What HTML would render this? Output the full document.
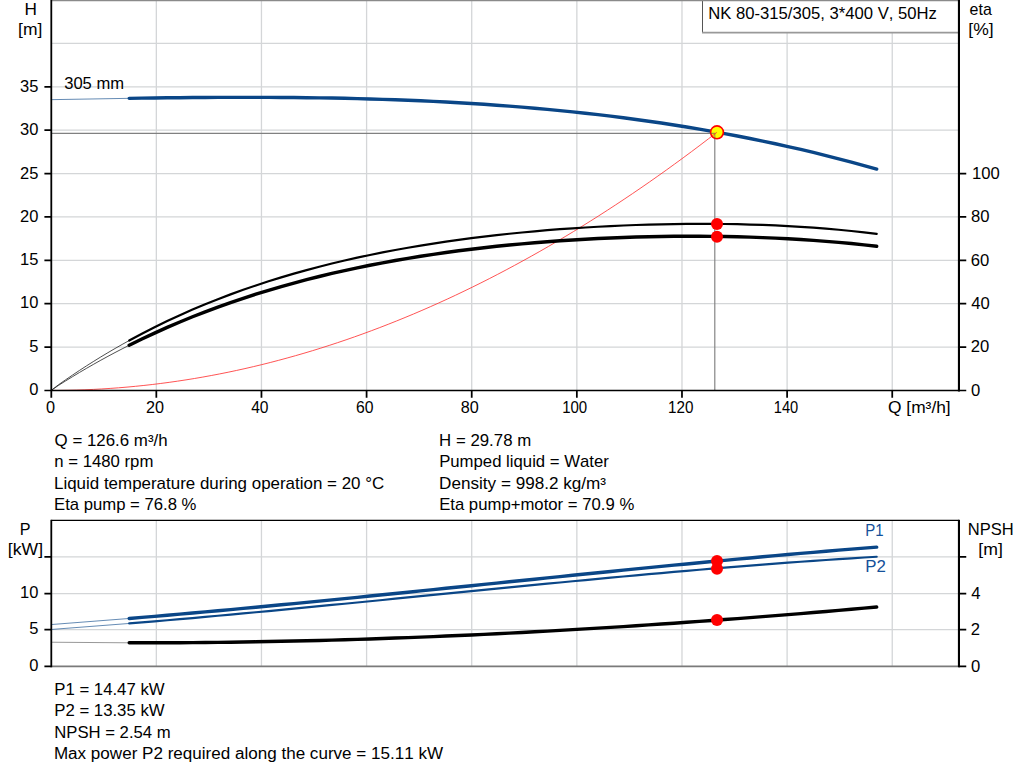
<!DOCTYPE html>
<html><head><meta charset="utf-8"><title>Pump curve</title>
<style>html,body{margin:0;padding:0;background:#fff;overflow:hidden}svg{display:block}text{font-family:"Liberation Sans",sans-serif}</style>
</head><body>
<svg width="1024" height="781" viewBox="0 0 1024 781" font-family="'Liberation Sans', sans-serif" style="font-kerning:none">
<rect width="1024" height="781" fill="#fff"/>
<path d="M156.33 0V390.45M261.46 0V390.45M366.59 0V390.45M471.72 0V390.45M576.85 0V390.45M681.98 0V390.45M787.11 0V390.45M892.24 0V390.45M51.20 347.07H958.95M51.20 303.70H958.95M51.20 260.32H958.95M51.20 216.95H958.95M51.20 173.57H958.95M51.20 130.20H958.95M51.20 86.82H958.95M51.20 43.45H958.95" stroke="#d4d6d8" stroke-width="1.3" fill="none"/>
<path d="M51.20 0.5H958.95" stroke="#8a8a8a" stroke-width="1.4"/>
<path d="M156.33 520.30V666.40M261.46 520.30V666.40M366.59 520.30V666.40M471.72 520.30V666.40M576.85 520.30V666.40M681.98 520.30V666.40M787.11 520.30V666.40M892.24 520.30V666.40M51.20 629.60H958.95M51.20 593.70H958.95M51.20 556.90H958.95" stroke="#d4d6d8" stroke-width="1.3" fill="none"/>
<rect x="702.5" y="0.5" width="256.45" height="32.2" fill="#fff"/>
<path d="M702.5 0V32.6" stroke="#555" stroke-width="1"/>
<path d="M702 32.7H958.95" stroke="#999" stroke-width="1.7"/>
<path d="M702 0.5H958.95" stroke="#8a8a8a" stroke-width="1.4"/>
<path d="M51.20 133.4H714.8V390.45" stroke="#808080" stroke-width="1.15" fill="none"/>
<path d="M51.20 390.45L59.63 390.41L68.05 390.28L76.48 390.08L84.90 389.79L93.33 389.42L101.75 388.96L110.18 388.42L118.60 387.80L127.03 387.10L135.45 386.32L143.88 385.45L152.30 384.50L160.73 383.46L169.15 382.35L177.58 381.15L186.01 379.87L194.43 378.50L202.86 377.05L211.28 375.52L219.71 373.91L228.13 372.22L236.56 370.44L244.98 368.58L253.41 366.63L261.83 364.61L270.26 362.50L278.68 360.31L287.11 358.03L295.53 355.68L303.96 353.24L312.38 350.72L320.81 348.11L329.24 345.42L337.66 342.65L346.09 339.80L354.51 336.86L362.94 333.85L371.36 330.74L379.79 327.56L388.21 324.29L396.64 320.94L405.06 317.51L413.49 314.00L421.91 310.40L430.34 306.72L438.76 302.96L447.19 299.11L455.62 295.19L464.04 291.17L472.47 287.08L480.89 282.91L489.32 278.65L497.74 274.30L506.17 269.88L514.59 265.37L523.02 260.78L531.44 256.11L539.87 251.36L548.29 246.52L556.72 241.60L565.14 236.60L573.57 231.51L581.99 226.34L590.42 221.09L598.85 215.76L607.27 210.34L615.70 204.84L624.12 199.26L632.55 193.59L640.97 187.85L649.40 182.02L657.82 176.10L666.25 170.11L674.67 164.03L683.10 157.87L691.52 151.63L699.95 145.30L708.37 138.89L716.80 132.40" stroke="#ff3535" stroke-width="0.85" fill="none"/>
<path d="M51.20 99.67L129.20 98.33" stroke="#0a4687" stroke-width="0.9" stroke-opacity="0.7" fill="none"/>
<path d="M129.20 98.33L141.87 98.14L154.54 97.97L167.21 97.82L179.88 97.68L192.55 97.56L205.22 97.47L217.89 97.40L230.56 97.35L243.23 97.33L255.89 97.33L268.56 97.37L281.23 97.44L293.90 97.54L306.57 97.68L319.24 97.85L331.91 98.06L344.58 98.32L357.25 98.61L369.92 98.95L382.59 99.34L395.26 99.78L407.93 100.26L420.60 100.79L433.27 101.38L445.94 102.02L458.61 102.72L471.28 103.48L483.95 104.30L496.62 105.18L509.28 106.12L521.95 107.13L534.62 108.21L547.29 109.35L559.96 110.57L572.63 111.86L585.30 113.22L597.97 114.66L610.64 116.17L623.31 117.77L635.98 119.45L648.65 121.21L661.32 123.05L673.99 124.98L686.66 127.00L699.33 129.11L712.00 131.32L724.67 133.61L737.34 136.00L750.01 138.49L762.67 141.08L775.34 143.77L788.01 146.56L800.68 149.46L813.35 152.46L826.02 155.57L838.69 158.79L851.36 162.12L864.03 165.56L876.70 169.12" stroke="#0a4687" stroke-width="3.4" stroke-linecap="round" fill="none"/>
<path d="M51.20 390.45L58.29 384.92L65.38 379.95L72.47 375.11L79.56 370.39L86.65 365.78L93.75 361.29L100.84 356.92L107.93 352.66L115.02 348.50L122.11 344.46L129.20 340.52" stroke="#222" stroke-width="0.8" fill="none"/>
<path d="M129.20 340.52L141.87 333.73L154.54 327.25L167.21 321.08L179.88 315.20L192.55 309.60L205.22 304.27L217.89 299.20L230.56 294.37L243.23 289.78L255.89 285.42L268.56 281.28L281.23 277.35L293.90 273.61L306.57 270.07L319.24 266.71L331.91 263.53L344.58 260.51L357.25 257.66L369.92 254.96L382.59 252.41L395.26 249.99L407.93 247.72L420.60 245.57L433.27 243.55L445.94 241.64L458.61 239.85L471.28 238.17L483.95 236.60L496.62 235.13L509.28 233.76L521.95 232.49L534.62 231.31L547.29 230.22L559.96 229.22L572.63 228.31L585.30 227.48L597.97 226.74L610.64 226.08L623.31 225.51L635.98 225.02L648.65 224.62L661.32 224.29L673.99 224.06L686.66 223.91L699.33 223.85L712.00 223.88L724.67 224.00L737.34 224.21L750.01 224.53L762.67 224.94L775.34 225.46L788.01 226.08L800.68 226.82L813.35 227.67L826.02 228.64L838.69 229.74L851.36 230.97L864.03 232.34L876.70 233.85" stroke="#000" stroke-width="2.2" stroke-linecap="round" fill="none"/>
<path d="M51.20 390.45L58.29 385.53L65.38 381.06L72.47 376.69L79.56 372.42L86.65 368.25L93.75 364.19L100.84 360.21L107.93 356.34L115.02 352.55L122.11 348.86L129.20 345.26" stroke="#222" stroke-width="0.8" fill="none"/>
<path d="M129.20 345.26L141.87 339.04L154.54 333.09L167.21 327.41L179.88 321.97L192.55 316.78L205.22 311.82L217.89 307.10L230.56 302.58L243.23 298.28L255.89 294.19L268.56 290.28L281.23 286.57L293.90 283.03L306.57 279.67L319.24 276.48L331.91 273.45L344.58 270.57L357.25 267.85L369.92 265.26L382.59 262.82L395.26 260.51L407.93 258.33L420.60 256.27L433.27 254.33L445.94 252.51L458.61 250.80L471.28 249.20L483.95 247.71L496.62 246.31L509.28 245.02L521.95 243.82L534.62 242.71L547.29 241.70L559.96 240.78L572.63 239.94L585.30 239.20L597.97 238.53L610.64 237.96L623.31 237.46L635.98 237.05L648.65 236.72L661.32 236.48L673.99 236.32L686.66 236.24L699.33 236.25L712.00 236.34L724.67 236.53L737.34 236.79L750.01 237.15L762.67 237.61L775.34 238.15L788.01 238.79L800.68 239.53L813.35 240.38L826.02 241.33L838.69 242.39L851.36 243.56L864.03 244.84L876.70 246.25" stroke="#000" stroke-width="3.4" stroke-linecap="round" fill="none"/>
<path d="M51.20 624.55L129.20 618.48" stroke="#0a4687" stroke-width="0.9" stroke-opacity="0.7" fill="none"/>
<path d="M129.20 618.48L141.87 617.42L154.54 616.35L167.21 615.26L179.88 614.16L192.55 613.03L205.22 611.90L217.89 610.75L230.56 609.58L243.23 608.40L255.89 607.21L268.56 606.01L281.23 604.80L293.90 603.57L306.57 602.34L319.24 601.10L331.91 599.85L344.58 598.59L357.25 597.32L369.92 596.05L382.59 594.77L395.26 593.48L407.93 592.20L420.60 590.90L433.27 589.61L445.94 588.31L458.61 587.00L471.28 585.70L483.95 584.40L496.62 583.09L509.28 581.79L521.95 580.49L534.62 579.19L547.29 577.89L559.96 576.59L572.63 575.30L585.30 574.01L597.97 572.73L610.64 571.46L623.31 570.18L635.98 568.92L648.65 567.67L661.32 566.42L673.99 565.18L686.66 563.95L699.33 562.73L712.00 561.52L724.67 560.32L737.34 559.14L750.01 557.97L762.67 556.81L775.34 555.66L788.01 554.53L800.68 553.42L813.35 552.32L826.02 551.23L838.69 550.17L851.36 549.12L864.03 548.09L876.70 547.08" stroke="#0a4687" stroke-width="3.4" stroke-linecap="round" fill="none"/>
<path d="M51.20 629.47L129.20 623.46" stroke="#0a4687" stroke-width="0.9" stroke-opacity="0.7" fill="none"/>
<path d="M129.20 623.46L141.87 622.41L154.54 621.34L167.21 620.26L179.88 619.16L192.55 618.04L205.22 616.91L217.89 615.77L230.56 614.61L243.23 613.44L255.89 612.25L268.56 611.06L281.23 609.86L293.90 608.65L306.57 607.42L319.24 606.20L331.91 604.96L344.58 603.72L357.25 602.47L369.92 601.22L382.59 599.97L395.26 598.71L407.93 597.45L420.60 596.19L433.27 594.93L445.94 593.67L458.61 592.41L471.28 591.15L483.95 589.89L496.62 588.64L509.28 587.40L521.95 586.15L534.62 584.92L547.29 583.69L559.96 582.47L572.63 581.25L585.30 580.05L597.97 578.86L610.64 577.67L623.31 576.50L635.98 575.34L648.65 574.20L661.32 573.06L673.99 571.95L686.66 570.85L699.33 569.76L712.00 568.69L724.67 567.64L737.34 566.61L750.01 565.60L762.67 564.61L775.34 563.64L788.01 562.69L800.68 561.76L813.35 560.86L826.02 559.99L838.69 559.13L851.36 558.31L864.03 557.51L876.70 556.74" stroke="#0a4687" stroke-width="2.2" stroke-linecap="round" fill="none"/>
<path d="M51.20 642.22L129.20 642.81" stroke="#8c8c8c" stroke-width="0.9" stroke-opacity="1" fill="none"/>
<path d="M129.20 642.81L141.87 642.81L154.54 642.79L167.21 642.75L179.88 642.69L192.55 642.60L205.22 642.48L217.89 642.35L230.56 642.19L243.23 642.00L255.89 641.80L268.56 641.57L281.23 641.32L293.90 641.04L306.57 640.74L319.24 640.43L331.91 640.09L344.58 639.72L357.25 639.34L369.92 638.93L382.59 638.51L395.26 638.06L407.93 637.59L420.60 637.10L433.27 636.59L445.94 636.06L458.61 635.51L471.28 634.94L483.95 634.35L496.62 633.74L509.28 633.11L521.95 632.46L534.62 631.79L547.29 631.10L559.96 630.39L572.63 629.66L585.30 628.92L597.97 628.16L610.64 627.38L623.31 626.58L635.98 625.76L648.65 624.92L661.32 624.07L673.99 623.20L686.66 622.31L699.33 621.41L712.00 620.48L724.67 619.54L737.34 618.59L750.01 617.62L762.67 616.63L775.34 615.62L788.01 614.60L800.68 613.57L813.35 612.52L826.02 611.45L838.69 610.37L851.36 609.27L864.03 608.16L876.70 607.03" stroke="#000" stroke-width="3.4" stroke-linecap="round" fill="none"/>
<circle cx="717" cy="224" r="6" fill="#ff0000"/>
<circle cx="717" cy="236.7" r="6" fill="#ff0000"/>
<circle cx="717" cy="561" r="6" fill="#ff0000"/>
<circle cx="717" cy="568.75" r="6" fill="#ff0000"/>
<circle cx="717" cy="620" r="6" fill="#ff0000"/>
<circle cx="717" cy="132.3" r="6.4" fill="#ffff00" stroke="#ff0000" stroke-width="1.6"/>
<clipPath id="mk"><circle cx="717" cy="132.3" r="6.6"/></clipPath>
<g clip-path="url(#mk)"><path d="M51.20 133.4H714.8V390.45" stroke="#555" stroke-width="1.2" stroke-opacity="0.55" fill="none"/><path d="M51.20 390.45L59.63 390.41L68.05 390.28L76.48 390.08L84.90 389.79L93.33 389.42L101.75 388.96L110.18 388.42L118.60 387.80L127.03 387.10L135.45 386.32L143.88 385.45L152.30 384.50L160.73 383.46L169.15 382.35L177.58 381.15L186.01 379.87L194.43 378.50L202.86 377.05L211.28 375.52L219.71 373.91L228.13 372.22L236.56 370.44L244.98 368.58L253.41 366.63L261.83 364.61L270.26 362.50L278.68 360.31L287.11 358.03L295.53 355.68L303.96 353.24L312.38 350.72L320.81 348.11L329.24 345.42L337.66 342.65L346.09 339.80L354.51 336.86L362.94 333.85L371.36 330.74L379.79 327.56L388.21 324.29L396.64 320.94L405.06 317.51L413.49 314.00L421.91 310.40L430.34 306.72L438.76 302.96L447.19 299.11L455.62 295.19L464.04 291.17L472.47 287.08L480.89 282.91L489.32 278.65L497.74 274.30L506.17 269.88L514.59 265.37L523.02 260.78L531.44 256.11L539.87 251.36L548.29 246.52L556.72 241.60L565.14 236.60L573.57 231.51L581.99 226.34L590.42 221.09L598.85 215.76L607.27 210.34L615.70 204.84L624.12 199.26L632.55 193.59L640.97 187.85L649.40 182.02L657.82 176.10L666.25 170.11L674.67 164.03L683.10 157.87L691.52 151.63L699.95 145.30L708.37 138.89L716.80 132.40" stroke="#ff3535" stroke-width="0.9" fill="none"/></g>
<path d="M51.30 0V397.85" stroke="#000" stroke-width="1.8" fill="none"/>
<path d="M958.95 0V391.55" stroke="#000" stroke-width="2.1" fill="none"/>
<path d="M44.40 347.07H51.20M44.40 303.70H51.20M44.40 260.32H51.20M44.40 216.95H51.20M44.40 173.57H51.20M44.40 130.20H51.20M44.40 86.82H51.20M958.95 347.07H966.25M958.95 303.70H966.25M958.95 260.32H966.25M958.95 216.95H966.25M958.95 173.57H966.25M156.33 390.45V397.85M261.46 390.45V397.85M366.59 390.45V397.85M471.72 390.45V397.85M576.85 390.45V397.85M681.98 390.45V397.85M787.11 390.45V397.85M892.24 390.45V397.85" stroke="#000" stroke-width="1.75" fill="none"/>
<path d="M44.40 390.50H966.25" stroke="#000" stroke-width="1.65" fill="none"/>
<path d="M51.20 666.40H958.95" stroke="#7a7a7a" stroke-width="1.6"/>
<path d="M51.20 520.30H958.95" stroke="#000" stroke-width="1.2"/>
<path d="M51.30 519.80V667.30" stroke="#000" stroke-width="1.8" fill="none"/>
<path d="M958.95 519.80V667.30" stroke="#000" stroke-width="2.1" fill="none"/>
<path d="M44.40 666.40H51.20M958.95 666.40H966.25M44.40 629.60H51.20M958.95 629.60H966.25M44.40 593.70H51.20M958.95 593.70H966.25M44.40 556.90H51.20M958.95 556.90H966.25" stroke="#000" stroke-width="1.8" fill="none"/>
<text transform="translate(708.18,19.00) scale(1.0416,1)" font-size="16.0" fill="#000">NK 80-315/305, 3*400 V, 50Hz</text>
<text transform="translate(24.49,14.80) scale(1.0741,1)" font-size="16.0" fill="#000">H</text>
<text transform="translate(18.11,34.70) scale(1.0909,1)" font-size="16.0" fill="#000">[m]</text>
<text transform="translate(969.62,14.50) scale(0.9971,1)" font-size="16.0" fill="#000">eta</text>
<text transform="translate(968.35,34.70) scale(1.0943,1)" font-size="16.0" fill="#000">[%]</text>
<text transform="translate(64.17,88.75) scale(1.0368,1)" font-size="16.0" fill="#000">305 mm</text>
<text transform="translate(29.18,394.90) scale(1.0300,1)" font-size="16.0" fill="#000">0</text>
<text transform="translate(29.23,351.65) scale(1.0300,1)" font-size="16.0" fill="#000">5</text>
<text transform="translate(20.01,308.40) scale(1.0300,1)" font-size="16.0" fill="#000">10</text>
<text transform="translate(20.06,265.15) scale(1.0300,1)" font-size="16.0" fill="#000">15</text>
<text transform="translate(20.01,221.90) scale(1.0300,1)" font-size="16.0" fill="#000">20</text>
<text transform="translate(20.06,178.65) scale(1.0300,1)" font-size="16.0" fill="#000">25</text>
<text transform="translate(20.01,135.40) scale(1.0300,1)" font-size="16.0" fill="#000">30</text>
<text transform="translate(20.06,92.15) scale(1.0300,1)" font-size="16.0" fill="#000">35</text>
<text transform="translate(970.95,395.80) scale(1.0400,1)" font-size="16.0" fill="#000">0</text>
<text transform="translate(970.76,352.43) scale(1.0400,1)" font-size="16.0" fill="#000">20</text>
<text transform="translate(971.22,309.05) scale(1.0400,1)" font-size="16.0" fill="#000">40</text>
<text transform="translate(970.75,265.68) scale(1.0400,1)" font-size="16.0" fill="#000">60</text>
<text transform="translate(970.88,222.30) scale(1.0400,1)" font-size="16.0" fill="#000">80</text>
<text transform="translate(971.93,178.92) scale(1.0400,1)" font-size="16.0" fill="#000">100</text>
<text transform="translate(46.06,413.30) scale(1.0198,1)" font-size="16.0" fill="#000">0</text>
<text transform="translate(145.98,413.30) scale(1.0142,1)" font-size="16.0" fill="#000">20</text>
<text transform="translate(251.14,413.30) scale(0.9759,1)" font-size="16.0" fill="#000">40</text>
<text transform="translate(355.90,413.30) scale(0.9841,1)" font-size="16.0" fill="#000">60</text>
<text transform="translate(460.70,413.30) scale(1.0136,1)" font-size="16.0" fill="#000">80</text>
<text transform="translate(562.16,413.30) scale(0.9376,1)" font-size="16.0" fill="#000">100</text>
<text transform="translate(668.04,413.30) scale(0.9537,1)" font-size="16.0" fill="#000">120</text>
<text transform="translate(773.78,413.30) scale(0.9174,1)" font-size="16.0" fill="#000">140</text>
<text transform="translate(887.98,413.40) scale(1.0862,1)" font-size="16.0" fill="#000">Q [m³/h]</text>
<text transform="translate(54.60,445.70) scale(1.0554,1)" font-size="16.0" fill="#000">Q = 126.6 m³/h</text>
<text transform="translate(54.29,467.00) scale(1.0463,1)" font-size="16.0" fill="#000">n = 1480 rpm</text>
<text transform="translate(54.01,488.60) scale(1.0592,1)" font-size="16.0" fill="#000">Liquid temperature during operation = 20 °C</text>
<text transform="translate(54.03,510.00) scale(1.0435,1)" font-size="16.0" fill="#000">Eta pump = 76.8 %</text>
<text transform="translate(439.12,445.70) scale(1.0512,1)" font-size="16.0" fill="#000">H = 29.78 m</text>
<text transform="translate(439.13,467.00) scale(1.0471,1)" font-size="16.0" fill="#000">Pumped liquid = Water</text>
<text transform="translate(439.10,488.60) scale(1.0703,1)" font-size="16.0" fill="#000">Density = 998.2 kg/m³</text>
<text transform="translate(439.13,510.00) scale(1.0449,1)" font-size="16.0" fill="#000">Eta pump+motor = 70.9 %</text>
<text transform="translate(19.77,534.70) scale(1.0099,1)" font-size="16.0" fill="#000">P</text>
<text transform="translate(7.84,554.70) scale(1.1006,1)" font-size="16.0" fill="#000">[kW]</text>
<text transform="translate(29.18,671.15) scale(1.0300,1)" font-size="16.0" fill="#000">0</text>
<text transform="translate(29.23,634.35) scale(1.0300,1)" font-size="16.0" fill="#000">5</text>
<text transform="translate(20.01,598.45) scale(1.0300,1)" font-size="16.0" fill="#000">10</text>
<text transform="translate(970.95,671.75) scale(1.0400,1)" font-size="16.0" fill="#000">0</text>
<text transform="translate(970.76,634.95) scale(1.0400,1)" font-size="16.0" fill="#000">2</text>
<text transform="translate(971.22,599.05) scale(1.0400,1)" font-size="16.0" fill="#000">4</text>
<text transform="translate(967.84,534.70) scale(1.0350,1)" font-size="16.0" fill="#000">NPSH</text>
<text transform="translate(978.34,554.70) scale(1.1034,1)" font-size="16.0" fill="#000">[m]</text>
<text transform="translate(865.37,535.80) scale(0.9384,1)" font-size="16.0" fill="#14509a">P1</text>
<text transform="translate(865.22,571.70) scale(1.0543,1)" font-size="16.0" fill="#14509a">P2</text>
<text transform="translate(54.22,694.50) scale(1.0488,1)" font-size="16.0" fill="#000">P1 = 14.47 kW</text>
<text transform="translate(54.22,715.80) scale(1.0488,1)" font-size="16.0" fill="#000">P2 = 13.35 kW</text>
<text transform="translate(54.23,737.50) scale(1.0436,1)" font-size="16.0" fill="#000">NPSH = 2.54 m</text>
<text transform="translate(53.90,759.20) scale(1.0665,1)" font-size="16.0" fill="#000">Max power P2 required along the curve = 15.11 kW</text>
</svg>
</body></html>
